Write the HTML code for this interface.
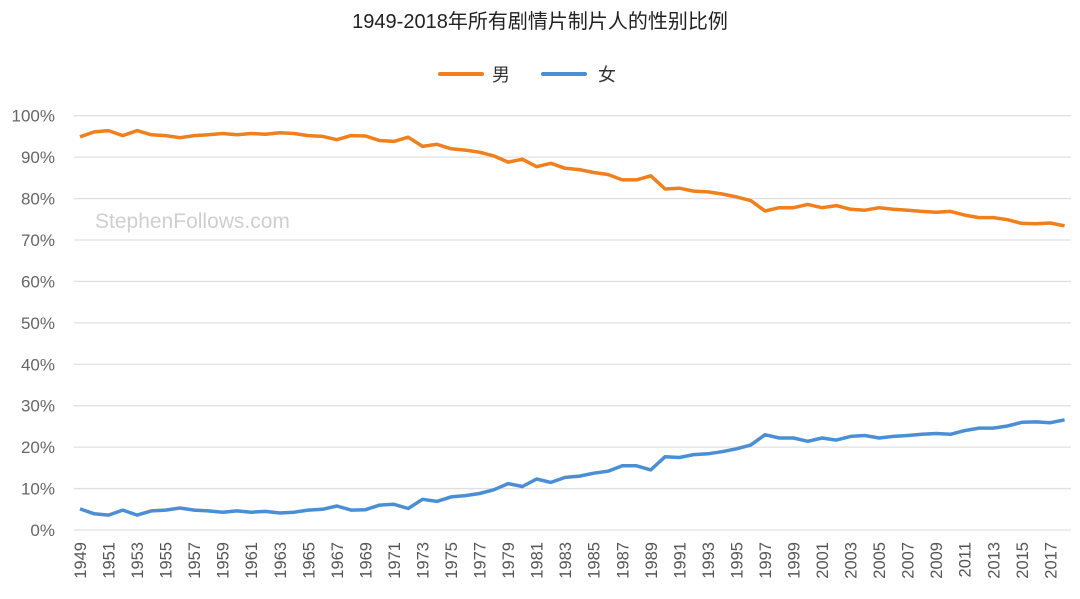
<!DOCTYPE html>
<html><head><meta charset="utf-8"><style>
html,body{margin:0;padding:0;background:#fff;width:1080px;height:599px;overflow:hidden}
svg{display:block}
text{font-family:"Liberation Sans","Noto Sans CJK SC",sans-serif}
</style></head><body>
<svg id="s" width="1080" height="599" viewBox="0 0 1080 599">
<text x="540" y="28" text-anchor="middle" font-size="20" fill="#222">1949-2018年所有剧情片制片人的性别比例</text>
<line x1="440" y1="74" x2="482" y2="74" stroke="#f07f1d" stroke-width="4" stroke-linecap="round"/>
<text x="492" y="81" font-size="18" fill="#333">男</text>
<line x1="543" y1="74" x2="585" y2="74" stroke="#4a8fd6" stroke-width="4" stroke-linecap="round"/>
<text x="598" y="81" font-size="18" fill="#333">女</text>
<g id="grid"></g>
<text x="95" y="228" font-size="21" fill="#cfcfcf">StephenFollows.com</text>
<polyline id="m" fill="none" stroke="#f07f1d" stroke-width="3.5" stroke-linejoin="round"/>
<polyline id="f" fill="none" stroke="#4a8fd6" stroke-width="3.5" stroke-linejoin="round"/>
<g id="xl"></g>
</svg>
<script>
var f=[5.1,3.9,3.6,4.8,3.6,4.6,4.8,5.3,4.8,4.6,4.3,4.6,4.3,4.5,4.1,4.3,4.8,5.0,5.8,4.8,4.9,6.0,6.2,5.2,7.4,6.9,8.0,8.3,8.8,9.7,11.2,10.5,12.3,11.5,12.7,13.0,13.7,14.2,15.5,15.5,14.5,17.7,17.5,18.2,18.4,18.9,19.6,20.5,23.0,22.2,22.2,21.4,22.2,21.7,22.6,22.8,22.2,22.6,22.8,23.1,23.3,23.1,24.0,24.6,24.6,25.1,26.0,26.1,25.9,26.6];
var NS="http://www.w3.org/2000/svg";
function X(i){return 80+i*14.27}
function Y(v){return 530-v*4.143}
var pf=[],pm=[];
for(var i=0;i<f.length;i++){pf.push(X(i).toFixed(1)+","+Y(f[i]).toFixed(1));pm.push(X(i).toFixed(1)+","+Y(100-f[i]).toFixed(1));}
document.getElementById("f").setAttribute("points",pf.join(" "));
document.getElementById("m").setAttribute("points",pm.join(" "));
var g=document.getElementById("grid");
for(var k=0;k<=10;k++){var y=Y(k*10);
var l=document.createElementNS(NS,"line");l.setAttribute("x1",74);l.setAttribute("x2",1071);l.setAttribute("y1",y);l.setAttribute("y2",y);l.setAttribute("stroke","#e0e0e0");l.setAttribute("stroke-width","1.3");g.appendChild(l);
var t=document.createElementNS(NS,"text");t.setAttribute("x",55);t.setAttribute("y",y+6);t.setAttribute("text-anchor","end");t.setAttribute("font-size","17");t.setAttribute("fill","#666");t.textContent=(k*10)+"%";g.appendChild(t);}
var xl=document.getElementById("xl");
for(var i=0;i<f.length;i+=2){var t=document.createElementNS(NS,"text");var x=X(i)+6;
t.setAttribute("transform","translate("+x+",542) rotate(-90)");t.setAttribute("text-anchor","end");t.setAttribute("font-size","16.5");t.setAttribute("fill","#555");t.textContent=1949+i;xl.appendChild(t);}
</script>
</body></html>
